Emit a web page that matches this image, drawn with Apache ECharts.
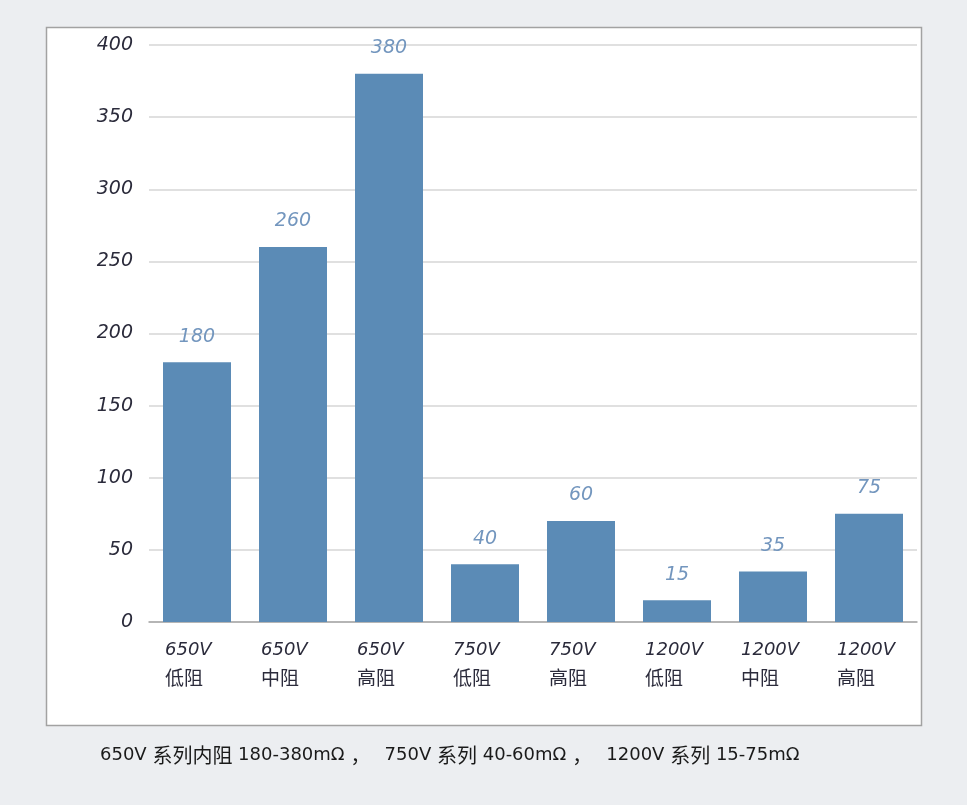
<!DOCTYPE html>
<html>
<head>
<meta charset="utf-8">
<script src="https://cdn.jsdelivr.net/npm/echarts@6/dist/echarts.min.js"></script>
<style>
html,body{margin:0;padding:0;background:#eceef1;}
#c{width:967px;height:805px;}
</style>
</head>
<body>
<div id="c"></div>
<script>
var voltages = ['650V','650V','650V','750V','750V','1200V','1200V','1200V'];
var grades = ['低阻','中阻','高阻','低阻','高阻','低阻','中阻','高阻'];
var values = [180, 260, 380, 40, 70, 15, 35, 75];
var valueLabels = ['180','260','380','40','60','15','35','75'];
var yTicks = [0, 50, 100, 150, 200, 250, 300, 350, 400];
var footer = '650V 系列内阻 180-380mΩ，750V 系列 40-60mΩ，1200V 系列 15-75mΩ';

var categories = voltages.map(function(v, i){ return v + '\n' + grades[i]; });

// split footer into CJK / punctuation / Latin runs for mixed fonts
function richFooter(s){
  var out = '', cur = '', curType = null;
  for (var i = 0; i < s.length; i++) {
    var ch = s[i];
    var t = ch === '，' ? 'p' : (/[\u3000-\u9fff\uff00-\uffef]/.test(ch) ? 'c' : 'l');
    if ((t !== curType || t === 'p') && cur) { out += '{' + curType + '|' + cur + '}'; cur = ''; }
    curType = t; cur += ch;
  }
  if (cur) out += '{' + curType + '|' + cur + '}';
  return out;
}

var chart = echarts.init(document.getElementById('c'), null, {renderer:'canvas'});
var numFont = '"DejaVu Sans"';
chart.setOption({
  backgroundColor: '#eceef1',
  animation: false,
  graphic: [{
    type: 'rect',
    shape: {x: 46.5, y: 27.5, width: 875, height: 698},
    style: {fill: '#ffffff', stroke: '#a2a2a2', lineWidth: 1.5},
    z: -10
  }],
  title: {
    text: richFooter(footer),
    left: 95,
    top: 740,
    textStyle: {
      fontSize: 19, fontWeight: 'normal', color: '#1a1a1a',
      rich: {
        l: {fontFamily: '"DejaVu Sans"', fontSize: 18, fontWeight: 'normal', color: '#1a1a1a'},
        c: {fontFamily: '"Noto Sans CJK SC"', fontSize: 20, fontWeight: 'normal', color: '#1a1a1a'},
        p: {fontFamily: '"Noto Sans CJK SC"', fontSize: 20, fontWeight: 'normal', color: '#1a1a1a', width: 34, align: 'left', padding: [0, 0, 0, 6]}
      }
    }
  },
  grid: {left: 149, right: 50, top: 45, bottom: 183},
  xAxis: {
    type: 'category',
    data: categories,
    axisTick: {show: false},
    axisLine: {lineStyle: {color: '#a6a6a6', width: 1.5}},
    axisLabel: {
      margin: 14,
      interval: 0,
      formatter: function(val){
        var p = val.split('\n');
        return '{v|' + p[0] + '}\n{g|' + p[1] + '}';
      },
      rich: {
        v: {fontFamily: numFont, fontStyle: 'italic', fontSize: 18, color: '#2b2b3b', width: 64, align: 'left', lineHeight: 28},
        g: {fontFamily: 'Noto Sans CJK SC', fontSize: 19, color: '#2b2b3b', width: 64, align: 'left', lineHeight: 28}
      }
    }
  },
  yAxis: {
    type: 'value',
    min: yTicks[0],
    max: yTicks[yTicks.length - 1],
    interval: 50,
    axisLine: {show: false},
    axisTick: {show: false},
    splitLine: {lineStyle: {color: '#d6d6d6', width: 1.5}},
    axisLabel: {margin: 16, fontFamily: numFont, fontStyle: 'italic', fontSize: 19, color: '#2b2b3b'}
  },
  series: [{
    type: 'bar',
    data: values,
    barWidth: 68,
    itemStyle: {color: '#5b8bb6'},
    label: {
      show: true,
      position: 'top',
      distance: 16,
      fontFamily: numFont,
      fontStyle: 'italic',
      fontSize: 19,
      color: '#7396be',
      formatter: function(p){ return valueLabels[p.dataIndex]; }
    }
  }]
});
</script>
</body>
</html>
